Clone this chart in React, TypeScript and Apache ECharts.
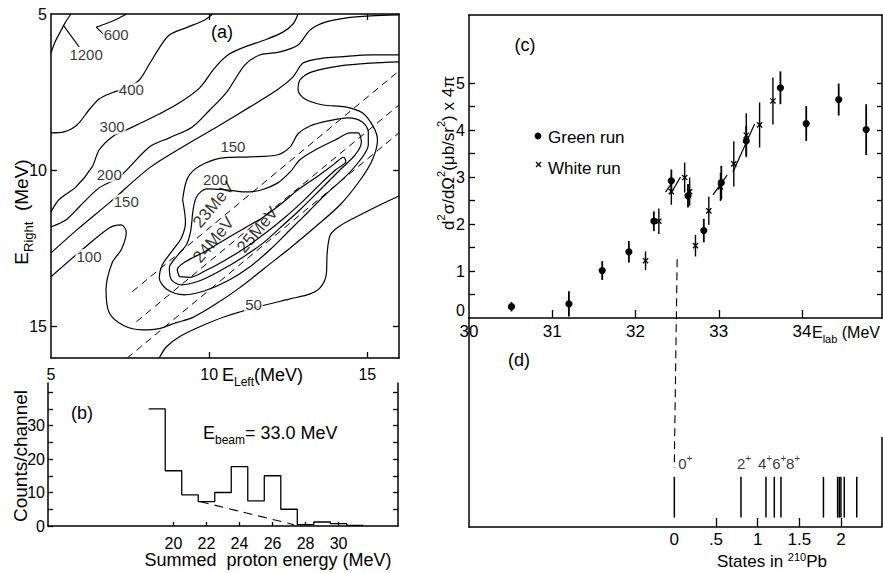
import React, { useEffect, useRef } from "react";
import * as echarts from "echarts";

// ---------------- Panel (a): contour map, points are [E_Left, E_Right] in MeV
const contour1200 = [[5, 6.25], [5.13, 5.89], [5.29, 5.58], [5.44, 5.29], [5.63, 5]];
const leader1200 = [[5.38, 5.35], [5.89, 6.05]];
const contour600 = [[7.38, 5], [7.09, 5.16], [6.71, 5.32], [6.43, 5.42]];
const leader600 = [[6.43, 5.42], [6.68, 5.67]];
const contour400 = [[5, 8.8], [5.41, 8.77], [5.82, 8.55], [6.2, 8.07], [6.52, 7.72], [6.93, 7.52], [7.38, 7.36], [7.79, 7.11], [8.11, 6.6], [8.42, 6.09], [8.74, 5.67], [9.32, 5.42], [9.86, 5.19], [10.11, 5]];
const contour300 = [[5, 11.33], [5.25, 10.94], [5.79, 10.53], [6.3, 9.89], [6.52, 9.35], [6.93, 8.93], [7.31, 8.74], [7.79, 8.51], [8.42, 8.2], [9.06, 7.84], [9.7, 7.36], [10.17, 6.73], [10.59, 6.31], [11.13, 6.05], [11.76, 5.83], [12.33, 5.58], [12.65, 5.32], [12.81, 5]];
const contour200 = [[5, 11.81], [5.48, 11.58], [5.89, 11.17], [6.52, 10.56], [7.16, 10.21], [8.11, 9.25], [8.74, 8.96], [9.47, 8.61], [10.02, 8.07], [10.56, 7.49], [11.13, 6.63], [11.6, 6.31], [12.24, 6.21], [12.81, 5.99], [13.19, 5.51], [13.67, 5.26], [14.3, 5.13], [15.1, 5.06], [16, 5.03]];
const contour150a = [[5, 12.64], [5.89, 11.84], [6.84, 11.04], [8.11, 9.92], [9.16, 9.25], [10.24, 8.61], [11.29, 7.97], [12.14, 7.43], [12.65, 7.01], [12.97, 6.57], [13.6, 6.41], [14.14, 6.37], [15.1, 6.31], [16, 6.31]];
const contour100 = [[5, 13.4], [5.98, 12.54], [6.84, 11.84], [7.22, 11.74], [7.38, 11.97], [7.22, 12.54], [6.93, 12.96], [6.74, 13.82], [6.84, 14.55], [7.31, 14.97], [7.88, 15.1], [8.42, 15.06], [8.96, 14.87], [9.47, 14.71], [10.17, 14.3], [10.97, 13.75], [11.76, 13.12], [12.56, 12.48], [13.35, 11.81], [14.14, 11.1], [14.78, 10.3], [15.16, 9.66], [15.32, 9.03], [15.19, 8.61], [14.84, 8.16], [14.3, 7.97], [13.6, 7.91], [13.03, 7.72], [12.81, 7.43], [12.87, 7.11], [13.25, 6.85], [14.14, 6.66], [15.1, 6.57], [16, 6.53]];
const contour50 = [[8.42, 16], [8.65, 15.64], [9.06, 15.32], [9.7, 15.0], [10.49, 14.68], [11.67, 14.33], [12.56, 14.11], [13.19, 13.95], [13.51, 13.75], [13.7, 13.34], [13.73, 12.64], [13.83, 12.06], [14.14, 11.77], [14.78, 11.42], [15.41, 11.1], [16, 10.82]];
const contour150b = [[9.16, 10.94], [9.32, 10.24], [9.7, 9.86], [10.43, 9.6], [11.29, 9.57], [12.17, 9.5], [12.56, 9.25], [12.81, 8.83], [13.19, 8.58], [13.76, 8.42], [14.38, 8.32], [14.84, 8.45], [15.03, 8.77], [15.03, 9.19], [14.78, 9.66], [14.3, 10.21], [13.67, 10.78], [13.13, 11.33], [12.56, 11.9], [11.92, 12.54], [11.29, 13.08], [10.59, 13.53], [9.86, 13.85], [9.22, 13.98], [8.68, 13.82], [8.42, 13.43], [8.52, 13.02], [8.81, 12.6], [9.12, 12.16], [9.25, 11.65], [9.16, 10.94]];
const contour200b = [[9.47, 11.42], [9.6, 10.85], [9.92, 10.59], [10.49, 10.62], [11.13, 10.69], [11.67, 10.62], [12.17, 10.4], [12.56, 10.05], [12.87, 9.66], [13.35, 9.35], [13.98, 9.03], [14.46, 8.8], [14.71, 8.8], [14.81, 9.09], [14.62, 9.5], [14.14, 9.98], [13.51, 10.62], [12.87, 11.26], [12.24, 11.84], [11.67, 12.35], [11.03, 12.8], [10.4, 13.18], [9.7, 13.53], [9.12, 13.66], [8.81, 13.5], [8.74, 13.12], [8.99, 12.73], [9.28, 12.38], [9.41, 11.97], [9.47, 11.42]];
const contourInner = [[9.06, 13.4], [8.99, 13.18], [9.25, 12.92], [9.86, 12.6], [10.49, 12.22], [11.13, 11.84], [11.67, 11.52], [12.24, 11.1], [12.81, 10.62], [13.44, 10.18], [13.95, 9.8], [14.25, 9.58], [14.32, 9.72], [14.0, 9.98], [13.55, 10.4], [13.0, 10.95], [12.4, 11.5], [11.76, 12.02], [11.13, 12.48], [10.49, 12.88], [9.86, 13.22], [9.38, 13.42], [9.06, 13.4]];
const kinematic23 = [[7.57, 13.88], [16, 6.82]];
const kinematic24 = [[7.7, 14.84], [16, 7.91]];
const kinematic25 = [[7.41, 16], [16, 8.8]];
const contourLabelText = ["1200", "600", "400", "300", "200", "150", "100", "150", "200", "50"];
const contourLabelAt = [[6.11, 6.31], [7.06, 5.67], [7.54, 7.43], [6.93, 8.61], [6.84, 10.14], [7.38, 11.01], [6.2, 12.76], [10.75, 9.25], [10.2, 10.3], [11.4, 14.3]];
const kinLabelText = ["23MeV", "24MeV", "25MeV"];
const kinLabelAt = [[10.14, 11.1], [10.14, 12.22], [11.53, 11.9]];
const eTickValues = [5, 10, 15];
const eInnerTicks = [10, 15];

// ---------------- Panel (b): summed proton energy histogram
const sumBinCenters = [19, 20, 21, 22, 23, 24, 25, 26, 27, 28, 29, 30, 31];
const sumCounts = [35, 16.5, 9.3, 7.3, 10, 17.7, 7.5, 15, 5, 0.4, 1.2, 0.7, 0.2];
const sumBackground = [[21.6, 7.3], [27.3, 0.4]];
const sumTickValues = [20, 22, 24, 26, 28, 30];
const countTickValues = [0, 5, 10, 15, 20, 25, 30, 35, 40];
const countLabelValues = [0, 10, 20, 30];

// ---------------- Panel (c): cross section vs E_lab
const greenE = [30.51, 31.2, 31.6, 31.92, 32.22, 32.43, 32.63, 32.82, 33.03, 33.33, 33.74, 34.05, 34.44, 34.77];
const greenXs = [0.24, 0.3, 1.01, 1.41, 2.06, 2.92, 2.6, 1.86, 2.88, 3.77, 4.9, 4.14, 4.65, 4.01];
const greenErr = [0.1, 0.27, 0.2, 0.23, 0.21, 0.24, 0.25, 0.25, 0.36, 0.32, 0.35, 0.37, 0.34, 0.54];
const whiteE = [32.12, 32.28, 32.43, 32.59, 32.65, 32.72, 32.88, 33.02, 33.18, 33.33, 33.49, 33.65];
const whiteXs = [1.22, 2.06, 2.69, 2.99, 2.69, 1.54, 2.28, 2.79, 3.28, 3.89, 4.11, 4.62];
const whiteErr = [0.2, 0.27, 0.28, 0.32, 0.3, 0.23, 0.3, 0.3, 0.48, 0.47, 0.48, 0.5];
const slashSegments = [[32.36, 2.68, 32.46, 2.94], [32.42, 2.64, 32.54, 3.0], [32.93, 2.62, 33.1, 3.04], [33.17, 3.11, 33.43, 4.13]];
const thresholdLink = [[32.5, 1.25], [32.465, -3.19]];
const elabLabelValues = [30, 31, 32, 33, 34];
const elabTickValues = [31, 32, 33, 34];
const xsLabelValues = [0, 1, 2, 3, 4, 5];
const xsTickValues = [0.5, 1, 1.5, 2, 2.5, 3, 3.5, 4, 4.5, 5];

// ---------------- Panel (d): states in 210Pb
const levelEnergies = [0, 0.8, 1.1, 1.2, 1.28, 1.79, 1.96, 1.98, 2.0, 2.04, 2.19];
const spinLabels = ["0", "2", "4", "6", "8"];
const spinEnergies = [0, 0.8, 1.1, 1.2, 1.28];
const statesLabelValues = [0, 0.5, 1, 1.5, 2];
const statesLabelText = ["0", ".5", "1", "1.5", "2"];

const FONT_N = "'Liberation Sans','DejaVu Sans',sans-serif";
const FONT_W = "'Liberation Sans','DejaVu Sans',sans-serif";
const BLACK = "#000";

const richSub = (main: number, lh = main + 8) => ({
  m: { fontSize: main, lineHeight: lh, verticalAlign: "middle", fontFamily: FONT_W, fill: BLACK, color: BLACK },
  s: { fontSize: Math.round(main * 0.68), lineHeight: Math.round(main * 0.72), verticalAlign: "bottom", fontFamily: FONT_W, fill: BLACK, color: BLACK },
  p: { fontSize: Math.round(main * 0.66), lineHeight: Math.round(main * 0.7), verticalAlign: "top", fontFamily: FONT_W, fill: BLACK, color: BLACK },
});

function axisLine(width = 1.5) {
  return { show: true, onZero: false, lineStyle: { color: BLACK, width } };
}
function inTicks(values: number[] | null, length: number) {
  const t: any = { show: values !== null && values.length > 0, inside: true, length, lineStyle: { color: BLACK, width: 1.3 } };
  if (values) t.customValues = values;
  return t;
}
function labels(values: number[] | null, size = 16, margin = 6, extra: any = {}) {
  if (!values) return { show: false };
  return { show: true, customValues: values, color: BLACK, fontSize: size, fontFamily: FONT_N, margin, ...extra };
}

function buildOption() {
  const contourSeries = [contour1200, contour600, contour400, contour300, contour200, contour150a, contour100, contour50, contour150b, contour200b, contourInner].map((d) => ({
    type: "line", xAxisIndex: 0, yAxisIndex: 0, data: d, smooth: 0.3, symbol: "none", silent: true, z: 2,
    lineStyle: { color: BLACK, width: 1.2 },
  }));
  const leaderSeries = [leader1200, leader600].map((d) => ({
    type: "line", xAxisIndex: 0, yAxisIndex: 0, data: d, symbol: "none", silent: true, z: 2,
    lineStyle: { color: BLACK, width: 1.1 },
  }));
  const kinSeries = [kinematic23, kinematic24, kinematic25].map((d) => ({
    type: "line", xAxisIndex: 0, yAxisIndex: 0, data: d, symbol: "none", silent: true, z: 2,
    lineStyle: { color: BLACK, width: 1, type: [7, 5] },
  }));

  const histPath: number[][] = [];
  sumBinCenters.forEach((c, i) => {
    histPath.push([c - 0.5, sumCounts[i]]);
    histPath.push([c + 0.5, sumCounts[i]]);
  });
  histPath.push([sumBinCenters[sumBinCenters.length - 1] + 0.5, 0]);

  const errRender = (kind: "dot" | "cross") => (params: any, api: any) => {
    const x = api.value(0), y = api.value(1), e = api.value(2);
    const p = api.coord([x, y]);
    const t = api.coord([x, y + e]);
    const b = api.coord([x, y - e]);
    const children: any[] = [
      { type: "line", shape: { x1: p[0], y1: t[1], x2: p[0], y2: b[1] }, style: { stroke: BLACK, lineWidth: kind === "dot" ? 1.8 : 1.4 } },
    ];
    if (kind === "dot") {
      children.push({ type: "circle", shape: { cx: p[0], cy: p[1], r: 3.6 }, style: { fill: BLACK } });
    } else {
      const h = 2.6;
      children.push({ type: "line", shape: { x1: p[0] - h, y1: p[1] - h, x2: p[0] + h, y2: p[1] + h }, style: { stroke: BLACK, lineWidth: 1.3 } });
      children.push({ type: "line", shape: { x1: p[0] - h, y1: p[1] + h, x2: p[0] + h, y2: p[1] - h }, style: { stroke: BLACK, lineWidth: 1.3 } });
    }
    return { type: "group", children };
  };

  // horizontal nudges (px) of the spin labels relative to their level lines
  const spinNudge: Record<string, number> = { "0": 11, "2": 3, "4": -1, "6": 5, "8": 12 };

  const graphic: any[] = [
    { type: "text", x: 222, y: 32, style: { text: "(a)", fontSize: 18, fontFamily: FONT_W, fill: BLACK, align: "center", verticalAlign: "middle" } },
    { type: "text", x: 222, y: 375, style: { text: "{m|E}{s|Left}{m|(MeV)}", rich: richSub(18), align: "left", verticalAlign: "middle" } },
    { type: "text", x: 21, y: 212, rotation: Math.PI / 2, style: { text: "{m|E}{s|Right}{m|  (MeV)}", rich: richSub(19), align: "center", verticalAlign: "middle" } },
    { type: "text", x: 82, y: 413, style: { text: "(b)", fontSize: 18, fontFamily: FONT_W, fill: BLACK, align: "center", verticalAlign: "middle" } },
    { type: "text", x: 203, y: 433, style: { text: "{m|E}{s|beam}{m|= 33.0 MeV}", rich: richSub(18), align: "left", verticalAlign: "middle" } },
    { type: "text", x: 20, y: 456, rotation: Math.PI / 2, style: { text: "Counts/channel", fontSize: 19, fontFamily: FONT_W, fill: BLACK, align: "center", verticalAlign: "middle" } },
    { type: "text", x: 268, y: 560, style: { text: "Summed  proton energy (MeV)", fontSize: 18, fontFamily: FONT_W, fill: BLACK, align: "center", verticalAlign: "middle" } },
    { type: "text", x: 525, y: 45, style: { text: "(c)", fontSize: 18, fontFamily: FONT_W, fill: BLACK, align: "center", verticalAlign: "middle" } },
    { type: "circle", shape: { cx: 538, cy: 136, r: 3.4 }, style: { fill: BLACK } },
    { type: "text", x: 548, y: 137, style: { text: "Green run", fontSize: 17, fontFamily: FONT_W, fill: BLACK, align: "left", verticalAlign: "middle" } },
    { type: "line", shape: { x1: 536, y1: 162, x2: 541, y2: 167 }, style: { stroke: BLACK, lineWidth: 1.2 } },
    { type: "line", shape: { x1: 536, y1: 167, x2: 541, y2: 162 }, style: { stroke: BLACK, lineWidth: 1.2 } },
    { type: "text", x: 548, y: 168, style: { text: "White run", fontSize: 17, fontFamily: FONT_W, fill: BLACK, align: "left", verticalAlign: "middle" } },
    { type: "text", x: 448, y: 153, rotation: Math.PI / 2, style: { text: "{m|d}{p|2}{m|σ/dΩ}{p|2}{m|(μb/sr}{p|2}{m|) x 4π}", rich: richSub(17), align: "center", verticalAlign: "middle" } },
    { type: "text", x: 812, y: 332, style: { text: "{m|E}{s|lab}{m| (MeV}", rich: richSub(16), align: "left", verticalAlign: "middle" } },
    { type: "text", x: 519, y: 360, style: { text: "(d)", fontSize: 18, fontFamily: FONT_W, fill: BLACK, align: "center", verticalAlign: "middle" } },
    { type: "text", x: 772, y: 561, style: { text: "{m|States in }{q|210}{m|Pb}", rich: { ...richSub(17, 19), q: { fontSize: 11, lineHeight: 10, verticalAlign: "top", fontFamily: FONT_W, fill: BLACK } }, align: "center", verticalAlign: "middle" } },
    { type: "line", shape: { x1: 882, y1: 437, x2: 882, y2: 527 }, style: { stroke: BLACK, lineWidth: 1.5 } },
  ];

  return {
    animation: false,
    backgroundColor: "#fff",
    textStyle: { fontFamily: FONT_N, color: BLACK },
    grid: [
      { left: 51, top: 14, width: 348, height: 344 },
      { left: 48, top: 383, width: 350, height: 143 },
      { left: 469, top: 15, width: 413, height: 303 },
      { left: 469, top: 318, width: 413, height: 209 },
    ],
    xAxis: [
      { gridIndex: 0, type: "value", min: 5, max: 16, position: "bottom", axisLine: axisLine(), axisTick: inTicks(eInnerTicks, 6), axisLabel: labels(eTickValues, 16, 8), splitLine: { show: false } },
      { gridIndex: 0, type: "value", min: 5, max: 16, position: "top", axisLine: axisLine(), axisTick: inTicks(eInnerTicks, 6), axisLabel: { show: false }, splitLine: { show: false } },
      { gridIndex: 1, type: "value", min: 12.4, max: 33.6, position: "bottom", axisLine: axisLine(), axisTick: inTicks(sumTickValues, 4), axisLabel: labels(sumTickValues, 16, 9), splitLine: { show: false } },
      { gridIndex: 2, type: "value", min: 30, max: 34.96, position: "bottom", axisLine: axisLine(), axisTick: inTicks(elabTickValues, 8), axisLabel: labels(elabLabelValues, 17, 5), splitLine: { show: false } },
      { gridIndex: 2, type: "value", min: 30, max: 34.96, position: "top", axisLine: axisLine(), axisTick: { show: false }, axisLabel: { show: false }, splitLine: { show: false } },
      { gridIndex: 3, type: "value", min: -2.465, max: 2.493, position: "bottom", axisLine: axisLine(), axisTick: inTicks(statesLabelValues.slice(1), 9), axisLabel: labels(statesLabelValues, 17, 4, { formatter: (v: number) => statesLabelText[statesLabelValues.indexOf(v)] ?? "" }), splitLine: { show: false } },
    ],
    yAxis: [
      { gridIndex: 0, type: "value", inverse: true, min: 5, max: 16, position: "left", axisLine: axisLine(), axisTick: inTicks(eInnerTicks, 6), axisLabel: labels(eTickValues, 16, 4), splitLine: { show: false } },
      { gridIndex: 0, type: "value", inverse: true, min: 5, max: 16, position: "right", axisLine: axisLine(), axisTick: inTicks(eInnerTicks, 6), axisLabel: { show: false }, splitLine: { show: false } },
      { gridIndex: 1, type: "value", min: 0, max: 42.7, position: "left", axisLine: axisLine(), axisTick: inTicks(countTickValues, 5), axisLabel: labels(countLabelValues, 16, 3), splitLine: { show: false } },
      { gridIndex: 1, type: "value", min: 0, max: 42.7, position: "right", axisLine: axisLine(), axisTick: inTicks(countTickValues.slice(1), 5), axisLabel: { show: false }, splitLine: { show: false } },
      {
        gridIndex: 2, type: "value", min: 0, max: 6.45, position: "left", axisLine: axisLine(), axisTick: inTicks(xsTickValues, 6),
        axisLabel: labels(xsLabelValues, 16, 4, {
          formatter: (v: number) => (v === 0 ? "{z|0}" : String(v)),
          rich: { z: { fontSize: 16, fontFamily: FONT_N, color: BLACK, padding: [0, 0, 16, 0] } },
        }),
        splitLine: { show: false },
      },
      { gridIndex: 2, type: "value", min: 0, max: 6.45, position: "right", axisLine: axisLine(), axisTick: inTicks(xsTickValues, 5), axisLabel: { show: false }, splitLine: { show: false } },
      { gridIndex: 3, type: "value", min: 0, max: 1, position: "left", axisLine: axisLine(), axisTick: { show: false }, axisLabel: { show: false }, splitLine: { show: false } },
    ],
    series: [
      ...contourSeries,
      ...leaderSeries,
      ...kinSeries,
      {
        type: "scatter", xAxisIndex: 0, yAxisIndex: 0, symbolSize: 1, silent: true, z: 6,
        itemStyle: { color: "rgba(0,0,0,0)" },
        data: contourLabelText.map((t, i) => ({ name: t, value: contourLabelAt[i] })),
        label: { show: true, position: "inside", formatter: "{b}", color: BLACK, fontSize: 15, fontFamily: FONT_N, backgroundColor: "#fff", padding: [0, 1] },
      },
      {
        type: "scatter", xAxisIndex: 0, yAxisIndex: 0, symbolSize: 1, silent: true, z: 6,
        itemStyle: { color: "rgba(0,0,0,0)" },
        data: kinLabelText.map((t, i) => ({ name: t, value: kinLabelAt[i] })),
        label: { show: true, position: "inside", formatter: "{b}", rotate: 50, color: BLACK, fontSize: 17, fontFamily: FONT_N },
      },
      // (b)
      { type: "line", xAxisIndex: 2, yAxisIndex: 2, data: histPath, symbol: "none", silent: true, lineStyle: { color: BLACK, width: 1.3 } },
      { type: "line", xAxisIndex: 2, yAxisIndex: 2, data: sumBackground, symbol: "none", silent: true, lineStyle: { color: BLACK, width: 1.1, type: [9, 6] } },
      // (c)
      { type: "custom", xAxisIndex: 3, yAxisIndex: 4, silent: true, encode: { x: 0, y: 1 }, data: greenE.map((e, i) => [e, greenXs[i], greenErr[i]]), renderItem: errRender("dot"), z: 4 },
      { type: "custom", xAxisIndex: 3, yAxisIndex: 4, silent: true, encode: { x: 0, y: 1 }, data: whiteE.map((e, i) => [e, whiteXs[i], whiteErr[i]]), renderItem: errRender("cross"), z: 4 },
      {
        type: "custom", xAxisIndex: 3, yAxisIndex: 4, silent: true, encode: { x: [0, 2], y: [1, 3] }, data: slashSegments,
        renderItem: (params: any, api: any) => {
          const a = api.coord([api.value(0), api.value(1)]);
          const b = api.coord([api.value(2), api.value(3)]);
          return { type: "line", shape: { x1: a[0], y1: a[1], x2: b[0], y2: b[1] }, style: { stroke: BLACK, lineWidth: 1.2 } };
        },
      },
      { type: "line", xAxisIndex: 3, yAxisIndex: 4, data: thresholdLink, symbol: "none", silent: true, clip: false, lineStyle: { color: BLACK, width: 1.1, type: [8, 5] } },
      // (d)
      {
        type: "custom", xAxisIndex: 5, yAxisIndex: 6, silent: true, encode: { x: 0, y: 1 }, data: levelEnergies.map((e) => [e, 0]),
        renderItem: (params: any, api: any) => {
          const e = api.value(0);
          const a = api.coord([e, 0.045]);
          const b = api.coord([e, 0.24]);
          return { type: "line", shape: { x1: a[0], y1: a[1], x2: b[0], y2: b[1] }, style: { stroke: BLACK, lineWidth: 1.5 } };
        },
      },
      {
        type: "scatter", xAxisIndex: 5, yAxisIndex: 6, symbolSize: 1, silent: true, itemStyle: { color: "rgba(0,0,0,0)" },
        data: spinLabels.map((j, i) => ({
          name: j, value: [spinEnergies[i], 0.255],
          label: { offset: [spinNudge[j] ?? 0, 0] },
        })),
        label: {
          show: true, position: "top", distance: 0, formatter: (p: any) => `{n|${p.name}}{s|+}`,
          rich: {
            n: { fontSize: 15, lineHeight: 20, verticalAlign: "middle", fontFamily: FONT_N, color: BLACK },
            s: { fontSize: 10, lineHeight: 10, verticalAlign: "top", fontFamily: FONT_W, color: BLACK },
          },
        },
      },
    ],
    graphic,
  };
}

export default function App() {
  const ref = useRef<HTMLDivElement>(null);
  useEffect(() => {
    if (!ref.current) return;
    const chart = echarts.init(ref.current, null, { renderer: "svg" });
    chart.setOption(buildOption() as any);
    return () => chart.dispose();
  }, []);
  return <div ref={ref} style={{ position: "fixed", left: 0, top: 0, width: 883, height: 573, background: "#fff" }} />;
}
